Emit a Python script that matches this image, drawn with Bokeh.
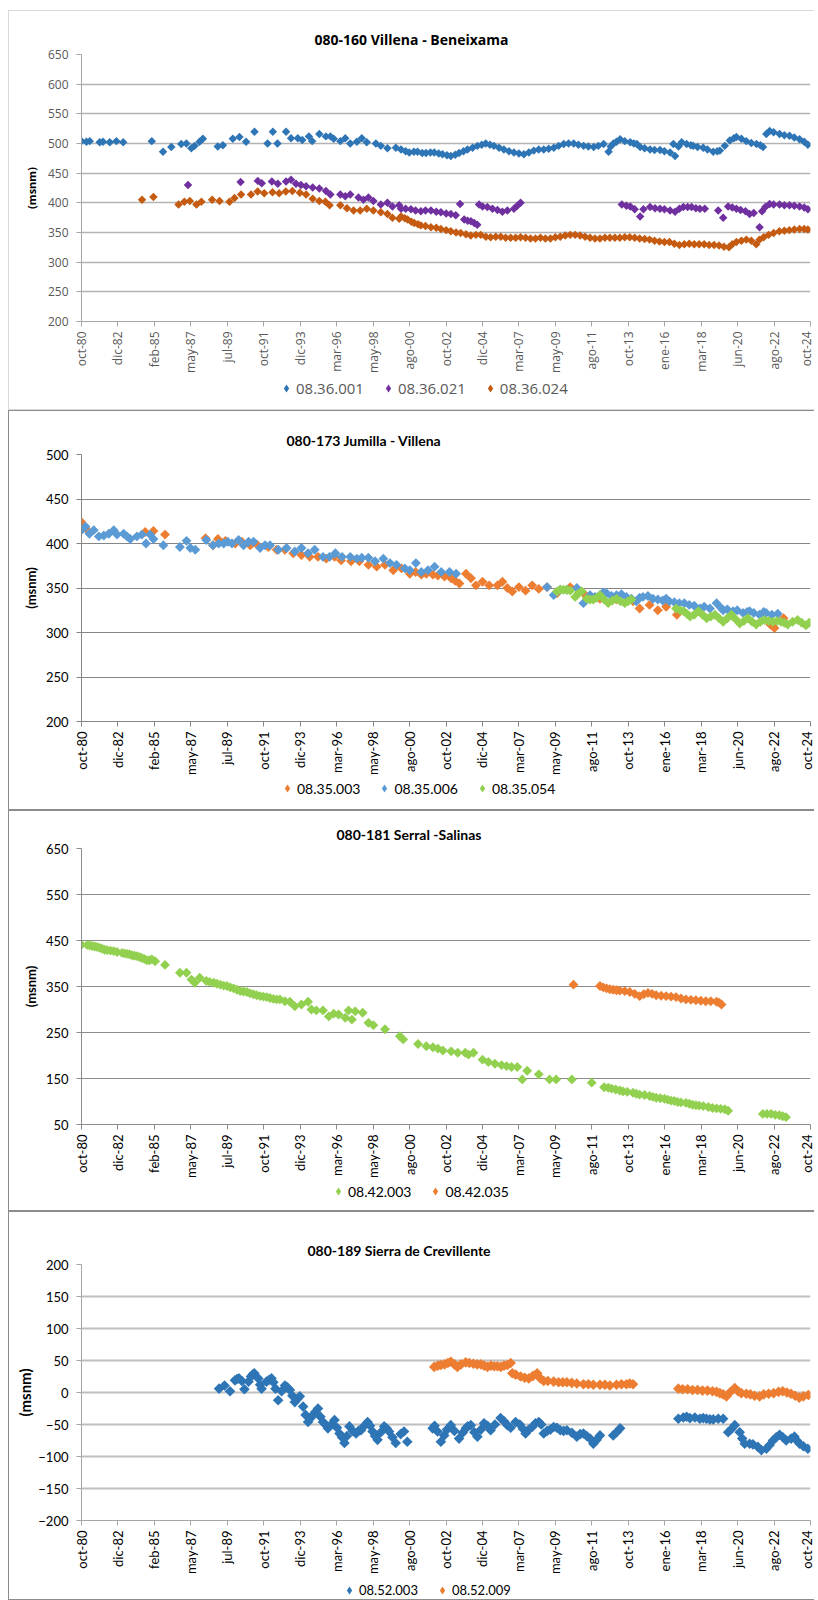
import math
from bokeh.plotting import figure
from bokeh.models import Range1d, FixedTicker, Legend, LegendItem, Spacer
from bokeh.core.properties import value
from bokeh.layouts import column, row
from bokeh.embed import file_html
from bokeh.resources import INLINE

# ---------------- axis labels ----------------
X_LABELS = ["oct-80", "dic-82", "feb-85", "may-87", "jul-89", "oct-91", "dic-93",
            "mar-96", "may-98", "ago-00", "oct-02", "dic-04", "mar-07", "may-09",
            "ago-11", "oct-13", "ene-16", "mar-18", "jun-20", "ago-22", "oct-24"]
X_START, X_END = 1980.75, 2024.83
Y_LABEL = "(msnm)"

# ---------------- panel 1: 080-160 Villena - Beneixama ----------------
P1_TITLE = "080-160 Villena - Beneixama"
P1_NAMES = ["08.36.001", "08.36.021", "08.36.024"]
P1_001 = [(1980.75,504),(1981.05,503),(1981.25,504),(1981.85,502),(1982.05,503),(1982.46,502),(1982.86,504),(1983.27,502),
          (1985.0,504),(1985.68,486),(1986.18,494),(1986.78,499),(1987.09,500),(1987.39,492),(1987.59,496),(1987.89,503),(1988.09,508),
          (1988.99,495),(1989.3,497),(1989.9,508),(1990.3,511),(1990.7,503),(1991.21,520),(1992.0,500),(1992.32,520),(1992.6,500),
          (1993.12,520),(1993.42,509),(1993.83,509),(1994.1,506),(1994.5,512),(1994.7,504),(1995.13,516),(1995.53,512),(1995.8,512),
          (1996.0,508),(1996.4,504),(1996.7,509),(1997.0,500),(1997.4,503),(1997.7,509),(1998.0,502),(1998.55,500),(1998.85,496),
          (1999.25,492),(1999.76,493),
          (2000.07,490),(2000.35,487),(2000.57,485),(2000.85,486),(2001.07,486),(2001.35,484),(2001.58,484),(2001.85,485),
          (2002.08,485),(2002.35,483),(2002.58,482),(2002.85,480),(2003.08,479),(2003.35,481),(2003.58,484),(2003.85,487),
          (2004.09,490),(2004.4,493),(2004.69,496),(2004.95,498),(2005.19,500),(2005.45,498),(2005.69,496),(2006.0,493),
          (2006.29,490),(2006.6,487),(2006.9,485),(2007.2,483),(2007.5,482),(2007.8,485),(2008.1,488),(2008.4,490),
          (2008.7,490),(2009.0,491),(2009.31,493),(2009.6,496),(2009.91,499),(2010.2,500),(2010.51,500),(2010.8,498),
          (2011.11,496),(2011.4,495),(2011.72,494),(2012.0,496),(2012.32,499),(2012.62,486),(2012.75,495),(2012.92,500),
          (2013.1,503),(2013.32,507),(2013.6,504),(2013.93,502),(2014.15,500),(2014.33,499),
          (2014.53,494),(2014.8,492),(2015.13,490),(2015.4,489),(2015.73,489),(2016.0,487),(2016.34,485),(2016.54,499),
          (2016.64,479),(2016.85,495),(2017.04,502),(2017.34,499),(2017.6,497),(2017.74,496),(2018.0,494),(2018.34,493),
          (2018.6,490),(2018.95,486),(2019.2,487),(2019.35,488),(2019.65,496),(2019.95,505),(2020.2,509),(2020.35,511),
          (2020.65,508),(2020.95,504),(2021.25,501),(2021.56,499),(2021.8,497),(2021.96,494),(2022.16,516),(2022.36,521),
          (2022.6,519),(2022.96,516),(2023.25,514),(2023.56,513),(2023.85,510),(2024.17,507),(2024.45,503),(2024.67,498)]
P1_021 = [(1987.19,430),(1990.37,435),(1991.41,437),(1991.65,433),(1992.26,436),(1992.62,432),(1993.12,436),(1993.42,439),
          (1993.72,432),(1994.02,430),(1994.33,428),(1994.73,426),(1995.13,424),(1995.53,420),(1995.8,414),(1996.4,414),
          (1996.7,411),(1997.0,414),(1997.5,409),(1997.8,405),(1998.1,409),(1998.4,403),(1998.85,397),(1999.25,400),
          (1999.55,394),(1999.96,396),
          (2000.07,390),(2000.35,390),(2000.67,389),(2000.95,387),(2001.27,386),(2001.55,387),(2001.88,387),(2002.2,385),
          (2002.48,384),(2002.8,382),(2003.08,381),(2003.38,379),(2003.64,398),
          (2003.89,372),(2004.1,370),(2004.3,369),(2004.5,366),(2004.68,363),
          (2004.79,397),(2005.0,394),(2005.29,393),(2005.6,390),(2005.9,388),(2006.2,385),(2006.5,387),(2006.9,390),
          (2007.1,395),(2007.3,400),
          (2013.42,397),(2013.7,395),(2013.93,394),(2014.2,389),(2014.53,377),(2014.73,389),
          (2015.13,393),(2015.43,391),(2015.73,390),(2016.0,389),(2016.34,387),(2016.64,385),(2016.9,390),(2017.14,393),
          (2017.4,393),(2017.64,393),(2017.9,391),(2018.14,390),(2018.44,390),
          (2019.25,387),(2019.55,375),(2019.85,394),(2020.1,392),(2020.35,390),(2020.6,388),(2020.9,386),(2021.15,381),
          (2021.4,383),(2021.75,359),(2021.9,386),(2022.1,393),(2022.36,398),(2022.6,397),(2022.96,397),(2023.25,396),
          (2023.56,396),(2023.85,395),(2024.17,394),(2024.45,392),(2024.67,389)]
P1_024 = [(1984.41,405),(1985.1,410),(1986.62,397),(1986.97,402),(1987.3,403),(1987.7,397),(1988.0,402),(1988.65,405),
          (1989.1,403),(1989.7,402),(1990.0,408),(1990.4,414),(1991.0,414),(1991.4,419),(1991.8,416),(1992.3,418),
          (1992.7,416),(1993.1,419),(1993.5,420),(1993.95,417),(1994.33,414),(1994.73,407),(1995.13,403),(1995.5,402),
          (1995.75,396),(1996.4,396),(1996.8,391),(1997.2,387),(1997.6,387),(1998.0,390),(1998.4,387),(1998.85,384),
          (1999.25,381),(1999.55,375),(1999.96,373),
          (2000.07,377),(2000.3,374),(2000.47,372),(2000.7,368),(2000.87,366),(2001.1,364),(2001.27,362),(2001.55,361),
          (2001.88,359),(2002.2,358),(2002.48,356),(2002.8,354),(2003.08,352),(2003.4,350),(2003.68,349),(2004.0,347),
          (2004.29,345),(2004.6,346),(2004.89,346),(2005.2,343),(2005.49,342),(2005.8,343),(2006.1,343),(2006.4,341),
          (2006.7,341),(2007.0,341),(2007.3,342),(2007.6,341),(2007.9,340),(2008.2,340),(2008.5,341),(2008.8,340),
          (2009.1,340),(2009.4,342),(2009.7,343),(2010.0,345),(2010.3,346),(2010.6,346),(2010.9,345),(2011.2,343),
          (2011.5,341),(2011.8,340),(2012.1,340),(2012.4,341),(2012.7,341),(2013.0,341),(2013.3,341),(2013.6,342),
          (2013.9,342),(2014.2,341),(2014.5,340),(2014.8,339),(2015.1,338),(2015.4,336),(2015.7,335),(2016.0,334),
          (2016.3,334),(2016.6,331),(2016.9,329),(2017.2,330),(2017.5,331),(2017.8,330),(2018.1,330),(2018.4,330),
          (2018.7,329),(2019.0,329),(2019.3,328),(2019.6,326),(2019.9,325),(2020.1,330),(2020.35,334),(2020.65,336),
          (2020.95,338),(2021.25,336),(2021.55,330),(2021.75,338),(2022.0,342),(2022.3,346),(2022.6,349),(2022.95,352),
          (2023.25,353),(2023.55,354),(2023.85,355),(2024.17,356),(2024.45,356),(2024.67,355)]

# ---------------- panel 2: 080-173 Jumilla - Villena ----------------
P2_TITLE = "080-173 Jumilla - Villena"
P2_NAMES = ["08.35.003", "08.35.006", "08.35.054"]
P2_003 = [(1980.75,424),(1981.0,417),(1984.6,413),(1985.1,414),(1985.8,410),(1988.25,406),(1988.7,398),(1989.0,405),
          (1989.45,403),(1990.05,400),(1990.45,402),(1990.95,398),(1991.35,399),(1992.05,396),(1992.55,393),(1993.05,393),
          (1993.55,389),(1994.05,387),(1994.55,385),(1995.05,385),(1995.55,383),(1996.05,385),(1996.45,381),(1997.05,380),
          (1997.55,380),(1998.1,376),(1998.6,374),(1999.1,376),(1999.6,370),(2000.1,372),(2000.6,366),(2000.95,368),
          (2001.3,365),(2001.6,366),(2002.0,365),(2002.3,364),(2002.7,363),(2003.1,361),(2003.35,358),(2003.6,355),
          (2004.0,366),(2004.3,361),(2004.6,353),(2005.0,357),(2005.4,353),(2005.9,353),(2006.2,357),(2006.5,350),
          (2006.8,346),(2007.2,351),(2007.6,347),(2008.0,353),(2008.4,349),(2008.9,351),(2009.5,344),(2010.3,351),
          (2011.1,344),(2012.1,338),(2013.1,337),(2014.1,335),(2014.5,327),(2015.1,331),(2015.6,325),(2016.1,329),
          (2016.75,320),(2022.4,309),(2022.65,305),(2023.2,316)]
P2_006 = [(1980.75,415),(1980.99,419),(1981.23,411),(1981.49,415),(1981.8,408),(1982.1,409),(1982.4,411),(1982.7,415),
          (1982.9,410),(1983.3,411),(1983.5,408),(1983.7,405),(1984.1,408),(1984.4,410),(1984.65,400),(1984.9,410),
          (1985.1,405),(1985.7,398),(1986.7,396),(1987.1,403),(1987.33,395),(1987.63,393),(1988.3,404),(1988.7,398),
          (1989.05,400),(1989.35,400),(1989.6,402),(1989.85,400),(1990.25,404),(1990.55,398),(1990.85,402),(1991.15,402),
          (1991.55,395),(1991.85,398),(1992.15,398),(1992.65,393),(1993.15,395),(1993.65,391),(1994.05,395),(1994.45,389),
          (1994.85,393),(1995.35,385),(1995.75,385),(1996.1,389),(1996.5,385),(1997.0,385),(1997.4,383),(1997.7,384),
          (1998.1,384),(1998.5,380),(1999.0,383),(1999.4,378),(1999.8,376),(2000.3,372),(2000.6,370),(2000.97,378),
          (2001.3,368),(2001.7,370),(2002.1,374),(2002.5,368),(2003.0,368),(2003.4,366),
          (2008.9,351),(2009.3,342),(2009.7,348),(2010.1,348),(2010.7,350),(2011.1,333),(2011.5,342),(2011.8,340),
          (2012.1,342),(2012.3,345),(2012.5,344),(2012.8,341),(2013.1,342),(2013.4,343),(2013.7,340),(2014.0,338),
          (2014.3,335),(2014.5,339),(2014.7,340),(2015.0,341),(2015.3,338),(2015.6,337),(2015.9,336),(2016.1,338),
          (2016.3,335),(2016.6,334),(2016.9,333),(2017.2,333),(2017.5,331),(2017.8,330),(2018.15,327),(2018.4,329),
          (2018.75,327),(2019.15,333),(2019.4,328),(2019.55,325),(2019.8,326),(2020.15,324),(2020.4,325),(2020.75,322),
          (2021.0,323),(2021.15,324),(2021.4,322),(2021.75,320),(2022.0,323),(2022.15,322),(2022.5,320),(2022.85,321)]
P2_054 = [(2009.5,346),(2009.7,348),(2009.9,348),(2010.1,348),(2010.3,347),(2010.6,340),(2010.8,344),(2011.0,346),
          (2011.3,338),(2011.5,337),(2011.7,337),(2011.9,339),(2012.1,342),(2012.35,337),(2012.6,333),(2012.85,336),
          (2013.1,338),(2013.35,335),(2013.6,333),(2013.8,335),(2014.0,337),
          (2016.7,327),(2016.95,325),(2017.15,324),(2017.35,321),(2017.55,318),(2017.8,320),(2018.05,324),(2018.3,320),
          (2018.55,316),(2018.8,318),(2019.05,320),(2019.3,316),(2019.55,312),(2019.8,316),(2020.05,320),(2020.3,315),
          (2020.55,310),(2020.8,313),(2021.05,316),(2021.3,312),(2021.55,309),(2021.8,312),(2022.05,314),(2022.3,313),
          (2022.55,312),(2022.8,313),(2023.05,312),(2023.25,311),(2023.45,309),(2023.75,312),(2024.05,314),(2024.3,311),
          (2024.55,308),(2024.75,311)]

# ---------------- panel 3: 080-181 Serral -Salinas ----------------
P3_TITLE = "080-181 Serral -Salinas"
P3_NAMES = ["08.42.003", "08.42.035"]
P3_003 = [(1980.75,441),(1981.1,440),(1981.25,439),(1981.4,438),(1981.55,437),(1981.7,436),(1981.85,434),(1982.0,432),
          (1982.15,430),(1982.3,429),(1982.5,428),(1982.7,427),(1982.9,425),(1983.2,423),(1983.35,422),(1983.5,421),
          (1983.65,420),(1983.8,418),(1983.95,417),(1984.1,416),(1984.25,414),(1984.4,412),(1984.55,410),(1984.7,407),
          (1984.85,407),(1985.0,409),(1985.2,405),(1985.8,397),(1986.7,380),(1987.1,380),(1987.4,365),(1987.6,358),
          (1987.9,369),(1988.3,362),(1988.5,360),(1988.75,358),(1988.95,356),(1989.15,354),(1989.35,352),(1989.55,351),
          (1989.75,348),(1989.95,346),(1990.15,343),(1990.35,340),(1990.55,339),(1990.75,338),(1990.95,335),(1991.15,333),
          (1991.35,331),(1991.55,329),(1991.75,328),(1991.95,327),(1992.15,325),(1992.35,323),(1992.55,322),(1992.75,322),
          (1993.05,318),(1993.35,317),(1993.65,307),(1994.05,311),(1994.45,317),(1994.65,300),(1994.95,298),(1995.35,298),
          (1995.7,285),(1996.0,291),(1996.3,289),(1996.7,282),(1996.9,298),(1997.1,278),(1997.3,296),(1997.75,293),
          (1998.1,271),(1998.4,266),(1999.1,257),(2000.0,242),(2000.2,235),(2001.1,225),(2001.6,220),(2002.0,218),
          (2002.3,215),(2002.6,211),(2003.1,209),(2003.5,206),(2003.95,206),(2004.15,202),(2004.45,206),(2005.0,191),
          (2005.35,186),(2005.75,182),(2006.15,179),(2006.45,177),(2006.75,175),(2007.1,175),(2007.4,148),(2007.7,167),
          (2008.4,159),(2009.05,148),(2009.45,148),(2010.4,148),(2011.6,141),(2012.35,131),(2012.6,130),(2012.8,128),
          (2013.05,126),(2013.3,124),(2013.5,122),(2013.75,121),(2014.1,119),(2014.3,117),(2014.5,115),(2014.8,114),
          (2015.1,112),(2015.3,110),(2015.5,108),(2015.75,107),(2016.0,106),(2016.2,104),(2016.4,102),(2016.6,101),
          (2016.8,99),(2017.0,98),(2017.3,97),(2017.5,95),(2017.7,93),(2017.9,92),(2018.1,91),(2018.35,90),(2018.65,88),
          (2018.9,86),(2019.15,85),(2019.4,84),(2019.65,83),(2019.85,80),
          (2021.95,73),(2022.2,73),(2022.45,73),(2022.7,71),(2022.95,70),(2023.15,68),(2023.35,66)]
P3_035 = [(2010.5,354),(2012.1,351),(2012.3,348),(2012.5,346),(2012.7,344),(2012.9,343),(2013.1,342),(2013.3,341),
          (2013.6,340),(2013.9,338),(2014.2,334),(2014.5,329),(2014.75,333),(2015.0,336),(2015.25,334),(2015.5,331),
          (2015.8,330),(2016.1,329),(2016.4,328),(2016.7,327),(2017.0,324),(2017.3,322),(2017.6,321),(2017.9,320),
          (2018.2,319),(2018.5,318),(2018.8,318),(2019.15,317),(2019.3,315),(2019.45,311)]

# ---------------- panel 4: 080-189 Sierra de Crevillente ----------------
P4_TITLE = "080-189 Sierra de Crevillente"
P4_NAMES = ["08.52.003", "08.52.009"]
P4_003 = [(1989.07,6),(1989.4,11),(1989.73,2),(1990.03,19),(1990.15,21),(1990.27,22),(1990.45,18),(1990.6,5),
          (1990.85,17),(1991.0,25),(1991.1,28),(1991.2,30),(1991.44,22),(1991.55,12),(1991.64,6),(1991.94,17),
          (1992.1,20),(1992.24,22),(1992.35,16),(1992.48,6),(1992.64,-12),(1992.85,2),(1993.05,11),(1993.2,8),
          (1993.35,4),(1993.5,-5),(1993.65,-15),(1993.8,-10),(1993.95,-6),(1994.15,-22),(1994.3,-35),(1994.45,-46),
          (1994.6,-40),(1994.75,-35),(1994.9,-30),(1995.05,-25),(1995.2,-38),(1995.35,-46),(1995.5,-50),(1995.65,-56),
          (1995.85,-50),(1996.05,-43),(1996.2,-55),(1996.35,-64),(1996.5,-70),(1996.65,-79),(1996.8,-68),(1996.95,-53),
          (1997.15,-60),(1997.35,-64),(1997.5,-60),(1997.65,-59),(1997.85,-52),(1998.05,-46),(1998.2,-52),(1998.35,-61),
          (1998.5,-68),(1998.65,-74),(1998.85,-62),(1999.05,-53),(1999.2,-56),(1999.35,-61),(1999.55,-70),(1999.75,-79),
          (2000.05,-65),(2000.25,-61),(2000.45,-77),
          (2001.98,-56),(2002.1,-52),(2002.28,-61),(2002.48,-77),(2002.68,-67),(2002.85,-58),(2003.08,-51),(2003.3,-60),
          (2003.58,-72),(2003.8,-63),(2003.99,-56),(2004.1,-53),(2004.29,-51),(2004.5,-62),(2004.69,-69),(2004.9,-58),
          (2005.09,-48),(2005.3,-52),(2005.49,-59),(2005.75,-50),(2006.09,-40),(2006.3,-45),(2006.5,-51),(2006.7,-55),
          (2007.0,-46),(2007.25,-50),(2007.45,-57),(2007.6,-64),(2007.8,-58),(2008.0,-54),(2008.2,-48),(2008.4,-46),
          (2008.55,-50),(2008.7,-64),(2008.9,-60),(2009.1,-58),(2009.3,-54),(2009.5,-55),(2009.7,-59),(2009.9,-60),
          (2010.1,-59),(2010.4,-63),(2010.7,-69),(2010.9,-65),(2011.1,-64),(2011.3,-68),(2011.5,-72),(2011.7,-80),
          (2011.9,-74),(2012.1,-67),(2012.9,-67),(2013.1,-62),(2013.32,-56),
          (2016.84,-41),(2017.14,-39),(2017.34,-38),(2017.54,-40),(2017.84,-39),(2018.14,-41),(2018.34,-40),(2018.54,-41),
          (2018.75,-42),(2018.95,-42),(2019.25,-41),(2019.55,-41),(2019.85,-62),(2020.05,-57),(2020.25,-51),(2020.55,-62),
          (2020.7,-72),(2020.85,-80),(2021.15,-80),(2021.35,-81),(2021.65,-85),(2021.86,-90),(2022.16,-88),(2022.36,-82),
          (2022.56,-75),(2022.76,-70),(2022.96,-66),(2023.16,-70),(2023.36,-75),(2023.66,-72),(2023.86,-69),(2024.0,-75),
          (2024.17,-80),(2024.4,-84),(2024.67,-88)]
P4_009 = [(2002.08,40),(2002.3,42),(2002.48,43),(2002.7,44),(2002.9,46),(2003.08,48),(2003.3,44),(2003.48,40),
          (2003.7,44),(2003.98,47),(2004.2,46),(2004.45,45),(2004.68,44),(2004.9,44),(2005.1,42),(2005.3,40),
          (2005.5,42),(2005.7,41),(2005.9,41),(2006.1,40),(2006.3,42),(2006.5,43),(2006.7,46),(2006.8,30),
          (2007.0,28),(2007.3,25),(2007.55,23),(2007.8,22),(2008.05,26),(2008.3,30),(2008.5,22),(2008.7,18),
          (2008.95,18),(2009.3,17),(2009.6,16),(2009.85,16),(2010.1,16),(2010.4,15),(2010.7,14),(2011.1,13),
          (2011.4,13),(2011.7,12),(2012.1,12),(2012.4,12),(2012.7,11),(2013.1,12),(2013.4,13),(2013.7,13),
          (2013.9,14),(2014.1,13),
          (2016.84,6),(2017.1,5),(2017.4,5),(2017.7,4),(2018.0,4),(2018.3,3),(2018.6,3),(2018.9,2),(2019.15,1),
          (2019.35,-1),(2019.55,-3),(2019.75,-6),(2019.95,0),(2020.25,7),(2020.45,2),(2020.65,-1),(2020.95,-2),
          (2021.2,-3),(2021.45,-5),(2021.75,-6),(2022.0,-3),(2022.3,-2),(2022.6,-1),(2022.9,1),(2023.15,2),
          (2023.4,0),(2023.65,-2),(2023.9,-5),(2024.15,-8),(2024.4,-6),(2024.7,-4)]

FIG_W = 806


def make_panel(title, names, datasets, colors, main_h, leg_h, top, bottom, yr, ystep, title_off,
               legend_xy, font, title_font, title_size, text_color, tick_size, ylab_size,
               ylab_standoff, grid_color, grid_width, axis_color, msize, legend_size, border):
    # ---- chart ----
    p = figure(width=FIG_W, height=main_h, x_range=Range1d(X_START, X_END),
               y_range=Range1d(yr[0], yr[1]), output_backend="svg", toolbar_location=None,
               min_border_left=72, min_border_right=5, min_border_top=top,
               min_border_bottom=bottom)
    p.outline_line_color = None
    p.background_fill_color = "white"
    p.border_fill_color = "white"
    p.styles = {"border-top": border, "border-left": border, "box-sizing": "border-box"}

    p.title.text = title
    p.title.align = "left"
    p.title.offset = title_off
    p.title.text_font = title_font
    p.title.text_font_size = f"{title_size}px"
    p.title.text_font_style = "bold"
    p.title.text_color = "#000000"
    p.title.standoff = 12

    xt = [round(X_START + i * (X_END - X_START) / (len(X_LABELS) - 1), 6)
          for i in range(len(X_LABELS))]
    p.xaxis.ticker = FixedTicker(ticks=xt)
    p.xaxis.major_label_overrides = dict(zip(xt, X_LABELS))
    p.xaxis.major_label_orientation = math.pi / 2
    p.xaxis.major_label_standoff = 5

    yt = list(range(yr[0], yr[1] + 1, ystep))
    p.yaxis.ticker = FixedTicker(ticks=yt)
    p.yaxis.major_label_standoff = 8
    p.yaxis.axis_label = Y_LABEL
    p.yaxis.axis_label_text_font = font
    p.yaxis.axis_label_text_font_style = "bold"
    p.yaxis.axis_label_text_font_size = f"{ylab_size}px"
    p.yaxis.axis_label_text_color = "#000000"
    p.yaxis.axis_label_standoff = ylab_standoff

    for ax in (p.xaxis[0], p.yaxis[0]):
        ax.axis_line_color = axis_color
        ax.axis_line_width = 1
        ax.major_tick_line_color = axis_color
        ax.major_tick_in = 0
        ax.major_tick_out = 5
        ax.minor_tick_line_color = None
        ax.major_label_text_font = font
        ax.major_label_text_font_size = f"{tick_size}px"
        ax.major_label_text_color = text_color

    p.xgrid.visible = False
    p.ygrid.grid_line_color = grid_color
    p.ygrid.grid_line_width = grid_width

    # ---- legend strip under the chart (its frame lines up with the chart frame) ----
    lf = figure(width=FIG_W, height=leg_h, x_range=Range1d(0, 1), y_range=Range1d(0, 1),
                output_backend="svg", toolbar_location=None, min_border=0,
                x_axis_type=None, y_axis_type=None)
    lf.outline_line_color = None
    lf.grid.visible = False
    lf.background_fill_color = "white"
    lf.border_fill_color = "white"
    lf.styles = {"border-left": border, "border-bottom": border, "box-sizing": "border-box"}

    items = []
    for name, data, col in zip(names, datasets, colors):
        xs = [d[0] for d in data]
        ys = [d[1] for d in data]
        p.scatter(xs, ys, marker="square", angle=math.pi / 4, size=msize,
                  fill_color=col, line_color=None)
        # same series on the legend strip (its points fall outside that strip's ranges)
        lr = lf.scatter(xs, ys, marker="diamond", size=msize, fill_color=col, line_color=None)
        items.append(LegendItem(label=value(name), renderers=[lr]))

    leg = Legend(items=items, location=legend_xy, orientation="horizontal",
                 border_line_color=None, background_fill_alpha=0, padding=0, margin=0,
                 spacing=14, glyph_width=20, glyph_height=20, label_standoff=0,
                 label_height=20, label_text_font=font,
                 label_text_font_size=f"{legend_size}px", label_text_color=text_color)
    lf.add_layout(leg, "center")
    return [p, lf]


p1 = make_panel(P1_TITLE, P1_NAMES, [P1_001, P1_021, P1_024], ["#2e75b6", "#7030a0", "#c55a11"],
                main_h=368, leg_h=32, top=43, bottom=58, yr=(200, 650), ystep=50, title_off=233,
                legend_xy=(195, 12), font="Open Sans", title_font="Open Sans", title_size=14,
                text_color="#595959", tick_size=12, ylab_size=11, ylab_standoff=6,
                grid_color="#b4b4b4", grid_width=1.5, axis_color="#a6a6a6", msize=6,
                legend_size=15, border="1px solid #d9d9d9")
p2 = make_panel(P2_TITLE, P2_NAMES, [P2_003, P2_006, P2_054], ["#ed7d31", "#5b9bd5", "#92d050"],
                main_h=368, leg_h=32, top=43, bottom=58, yr=(200, 500), ystep=50, title_off=205,
                legend_xy=(196, 12), font="Lato", title_font="Lato", title_size=14,
                text_color="#000000", tick_size=13, ylab_size=13, ylab_standoff=4,
                grid_color="#868686", grid_width=1, axis_color="#868686", msize=7,
                legend_size=14, border="1px solid #8c8c8c")
p3 = make_panel(P3_TITLE, P3_NAMES, [P3_003, P3_035], ["#92d050", "#ed7d31"],
                main_h=371, leg_h=30, top=37, bottom=58, yr=(50, 650), ystep=100, title_off=255,
                legend_xy=(247, 10), font="Lato", title_font="Lato", title_size=14,
                text_color="#000000", tick_size=13, ylab_size=13, ylab_standoff=4,
                grid_color="#8c8c8c", grid_width=1, axis_color="#8c8c8c", msize=7,
                legend_size=14, border="1px solid #8c8c8c")
p4 = make_panel(P4_TITLE, P4_NAMES, [P4_003, P4_009], ["#2e75b6", "#ed7d31"],
                main_h=366, leg_h=23, top=52, bottom=58, yr=(-200, 200), ystep=50, title_off=226,
                legend_xy=(258, 0), font="Lato", title_font="Lato", title_size=14,
                text_color="#000000", tick_size=13, ylab_size=15, ylab_standoff=1,
                grid_color="#bfbfbf", grid_width=2, axis_color="#a6a6a6", msize=7.5,
                legend_size=13, border="1px solid #8c8c8c")

layout = column(Spacer(height=10), row(Spacer(width=8), column(*(p1 + p2 + p3 + p4))))
open("out.html", "w").write(file_html(layout, INLINE))
